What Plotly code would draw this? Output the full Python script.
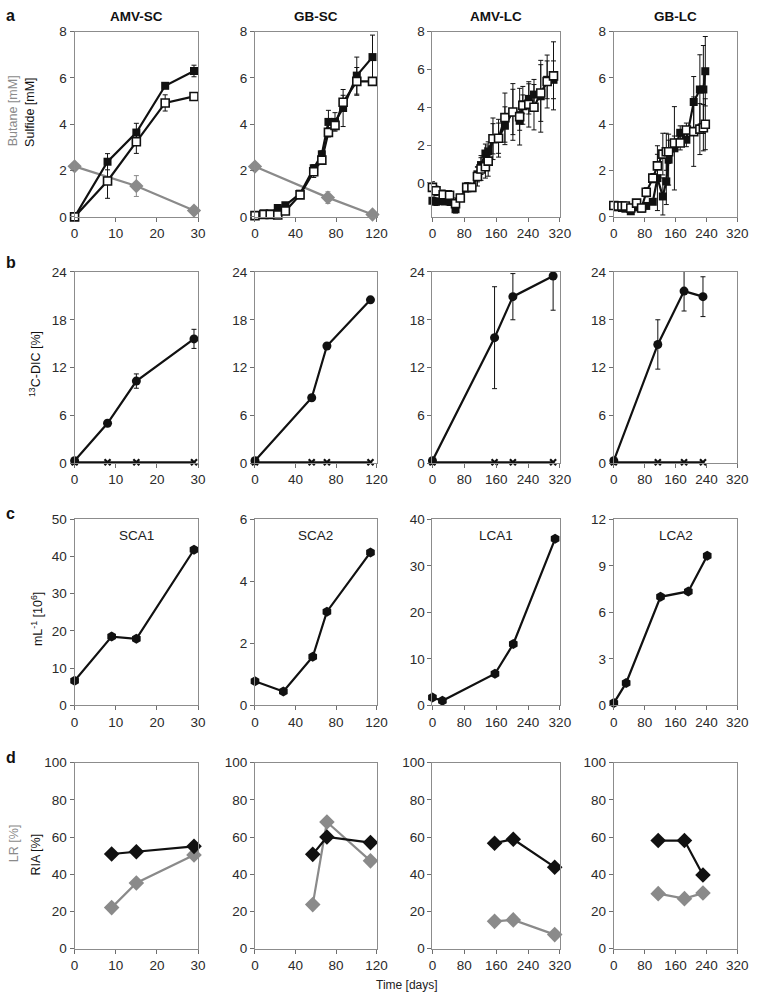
import plotly.graph_objects as go
from plotly.subplots import make_subplots

W, H = 765, 1006

# ---------- a: sulfide (squares) and butane (grey diamonds) [mM]
amv_sc_days = [0, 8, 15, 22, 29]
amv_sc_sulf_1 = [0, 2.38, 3.64, 5.66, 6.3]
amv_sc_sulf_1_err = [0, 0.35, 0.4, 0, 0.25]
amv_sc_sulf_2 = [0, 1.55, 3.24, 4.92, 5.2]
amv_sc_sulf_2_err = [0, 0.75, 0.5, 0.35, 0.15]
amv_sc_but_days = [0, 15, 29]
amv_sc_but = [2.18, 1.33, 0.27]
amv_sc_but_err = [0, 0.45, 0.1]

gb_sc_days = [0, 8.7, 15, 22.5, 30, 44.5, 58, 66, 72.5, 79, 87, 100.5, 116]
gb_sc_sulf_1 = [0.05, 0.15, 0.15, 0.38, 0.5, 1.0, 2.1, 2.7, 4.1, 4.1, 4.7, 6.1, 6.9]
gb_sc_sulf_1_err = [0, 0, 0, 0, 0, 0, 0.15, 0.15, 0.5, 0.4, 0.8, 0.8, 0.95]
gb_sc_sulf_2 = [0.05, 0.1, 0.1, 0.08, 0.25, 0.95, 1.95, 2.45, 3.65, 3.95, 4.95, 5.85, 5.85]
gb_sc_sulf_2_err = [0, 0, 0, 0, 0, 0, 0.25, 0.15, 0.2, 0.2, 0.3, 0.6, 0.1]
gb_sc_but_days = [0, 72, 116]
gb_sc_but = [2.17, 0.83, 0.1]
gb_sc_but_err = [0, 0.25, 0.05]

amv_lc_days = [0, 9, 27, 43, 58, 70, 86, 99, 113, 122, 133, 140, 152, 166, 182,
               202, 219, 227, 242, 255, 272, 288, 304]
amv_lc_sulf_1 = [-0.95, -1.0, -0.97, -1.0, -1.4, -0.8, -0.28, -0.28, 0.45, 0.94, 1.55, 1.67,
                 2.33, 2.36, 3.02, 3.75, 3.28, 4.15, 4.44, 4.67, 4.58, 5.45, 5.45]
amv_lc_sulf_1_err = [0.2, 0.2, 0.2, 0.2, 0.2, 0.1, 0.1, 0.1, 0.4, 0.5, 0.5, 0.5,
                     0.8, 0.8, 1.0, 1.2, 0.5, 0.5, 0.8, 0.8, 1.9, 1.0, 1.0]
amv_lc_sulf_2 = [-0.24, -0.42, -0.63, -0.66, -1.1, -0.8, -0.24, -0.24, 0.33, 0.73, 0.85, 1.15,
                 2.33, 2.36, 3.45, 3.75, 3.5, 4.1, 4.15, 4.0, 4.75, 5.36, 5.66]
amv_lc_sulf_2_err = [0.3, 0.25, 0.25, 0.25, 0.3, 0.1, 0.25, 0.1, 0.5, 0.6, 0.6, 0.8,
                     1.1, 1.0, 1.3, 1.5, 1.5, 1.0, 1.2, 1.2, 1.5, 1.4, 1.8]

gb_lc_days = [0, 11, 21, 30, 44, 59, 72, 84, 101, 113, 127, 136, 142, 157, 172,
              188, 207, 223, 232, 237]
gb_lc_sulf_1 = [0.49, 0.41, 0.38, 0.35, 0.24, 0.41, 0.35, 0.47, 0.65, 1.67, 0.88, 1.53,
                2.47, 2.96, 3.63, 3.33, 4.96, 5.5, 5.5, 6.29]
gb_lc_sulf_1_err = [0, 0, 0, 0, 0, 0, 0, 0, 0.1, 1.4, 0.8, 1.0,
                    1.1, 1.8, 0.3, 0.3, 1.1, 1.5, 1.9, 1.5]
gb_lc_sulf_2 = [0.49, 0.47, 0.47, 0.47, 0.38, 0.59, 0.38, 1.06, 1.67, 2.2, 2.71, 2.81,
                2.81, 3.19, 3.19, 3.75, 3.68, 3.79, 3.85, 4.0]
gb_lc_sulf_2_err = [0, 0, 0, 0, 0, 0, 0, 0.2, 0.2, 0.5, 0.9, 0.8,
                    0.5, 0.3, 0.3, 0.3, 1.5, 1.1, 1.0, 1.1]

# ---------- b: 13C-DIC [%] (circles) and controls (crosses)
dic_days = [[0, 8, 15, 29], [0, 56, 71, 114], [0, 156, 202, 303], [0, 114, 182, 231]]
dic_vals = [[0.3, 5.0, 10.3, 15.6], [0.3, 8.2, 14.7, 20.5],
            [0.3, 15.75, 20.9, 23.5], [0.3, 14.9, 21.6, 20.9]]
dic_err = [[0, 0.3, 0.9, 1.2], [0, 0.3, 0.2, 0.2], [0, 6.4, 2.9, 4.3], [0, 3.1, 2.5, 2.5]]
dic_ctrl = [[0.1, 0.1, 0.1, 0.1]] * 4

# ---------- c: cell counts, mL-1 [10^6]
cell_names = ["SCA1", "SCA2", "LCA1", "LCA2"]
cell_days = [[0, 9, 15, 29], [0, 28, 57, 71, 114], [0, 25, 157, 203, 308], [0, 32, 121, 193, 242]]
cell_vals = [[6.6, 18.5, 17.9, 41.8], [0.78, 0.45, 1.57, 3.02, 4.93],
             [1.7, 1.0, 6.8, 13.2, 35.8], [0.15, 1.45, 7.0, 7.35, 9.65]]

# ---------- d: RIA (black) and LR (grey) [%]
ria_days = [[9, 15, 29], [57, 71, 114], [156, 203, 307], [115, 183, 231]]
ria_vals = [[50.9, 52.1, 55.0], [50.7, 60.0, 57.0], [56.7, 58.8, 43.8], [58.1, 58.1, 39.6]]
lr_vals = [[22.1, 35.3, 50.4], [23.7, 68.1, 47.2], [14.7, 15.5, 7.6], [29.6, 26.9, 29.9]]

col_titles = ["AMV-SC", "GB-SC", "AMV-LC", "GB-LC"]
x_ranges = [[0, 30, 10], [0, 120, 40], [0, 320, 80], [0, 320, 80]]

# pixel boxes of plot areas
col_px = [(72, 198), (256, 380), (437, 567), (622, 748)]
row_px = [(25, 213), (269, 463), (520, 709), (767, 956)]

BLACK = "#111111"
GREY = "#8a8a8a"

fig = make_subplots(rows=4, cols=4)


def err(v, c=BLACK):
    return dict(type="data", array=v, visible=True, thickness=1, width=2.5, color=c)


def add(r, c, **kw):
    kw.setdefault("cliponaxis", False)
    kw.setdefault("showlegend", False)
    fig.add_trace(go.Scatter(**kw), row=r, col=c)


# row a
sulf = [
    (amv_sc_days, amv_sc_sulf_1, amv_sc_sulf_1_err, amv_sc_sulf_2, amv_sc_sulf_2_err),
    (gb_sc_days, gb_sc_sulf_1, gb_sc_sulf_1_err, gb_sc_sulf_2, gb_sc_sulf_2_err),
    (amv_lc_days, amv_lc_sulf_1, amv_lc_sulf_1_err, amv_lc_sulf_2, amv_lc_sulf_2_err),
    (gb_lc_days, gb_lc_sulf_1, gb_lc_sulf_1_err, gb_lc_sulf_2, gb_lc_sulf_2_err),
]
but = [(amv_sc_but_days, amv_sc_but, amv_sc_but_err), (gb_sc_but_days, gb_sc_but, gb_sc_but_err)]
for i, (d, s1, e1, s2, e2) in enumerate(sulf):
    if i < 2:
        bd, bv, be = but[i]
        add(1, i + 1, x=bd, y=bv, mode="lines+markers", error_y=err(be, GREY),
            line=dict(color=GREY, width=2.2),
            marker=dict(symbol="diamond", size=11, color=GREY))
    add(1, i + 1, x=d, y=s1, mode="lines+markers", error_y=err(e1),
        line=dict(color=BLACK, width=2.2),
        marker=dict(symbol="square", size=8, color=BLACK))
    add(1, i + 1, x=d, y=s2, mode="lines+markers", error_y=err(e2),
        line=dict(color=BLACK, width=2.2),
        marker=dict(symbol="square", size=8, color="white", line=dict(color=BLACK, width=1.6)))

# row b
for i in range(4):
    add(2, i + 1, x=dic_days[i], y=dic_ctrl[i], mode="lines+markers",
        line=dict(color=BLACK, width=2.2),
        marker=dict(symbol="x-thin", size=6, color=BLACK, line=dict(color=BLACK, width=2.2)))
    add(2, i + 1, x=dic_days[i], y=dic_vals[i], mode="lines+markers", error_y=err(dic_err[i]),
        line=dict(color=BLACK, width=2.2),
        marker=dict(symbol="circle", size=9, color=BLACK))

# row c
for i in range(4):
    add(3, i + 1, x=cell_days[i], y=cell_vals[i], mode="lines+markers",
        line=dict(color=BLACK, width=2.2),
        marker=dict(symbol="hexagon", size=10, color=BLACK))

# row d
for i in range(4):
    add(4, i + 1, x=ria_days[i], y=lr_vals[i], mode="lines+markers",
        line=dict(color=GREY, width=2.2),
        marker=dict(symbol="diamond", size=12, color=GREY))
    add(4, i + 1, x=ria_days[i], y=ria_vals[i], mode="lines+markers",
        line=dict(color=BLACK, width=2.2),
        marker=dict(symbol="diamond", size=12, color=BLACK))

y_axes = [
    [([0, 8], [0, 2, 4, 6, 8])] * 2 + [([-1.8, 8], [0, 2, 4, 6, 8]), ([0, 8], [0, 2, 4, 6, 8])],
    [([0, 24], [0, 6, 12, 18, 24])] * 4,
    [([0, 50], list(range(0, 51, 10))), ([0, 6], [0, 2, 4, 6]),
     ([0, 40], [0, 10, 20, 30, 40]), ([0, 12], [0, 3, 6, 9, 12])],
    [([0, 100], [0, 20, 40, 60, 80, 100])] * 4,
]

font = "Liberation Sans, Arial"
axis_style = dict(showline=True, mirror=True, linecolor="#8c8c8c", linewidth=1,
                  ticks="outside", ticklen=4, tickcolor="#6e6e6e", showgrid=False,
                  zeroline=False, tickfont=dict(size=13.5, color="#2a2a2a", family=font))

for r in range(4):
    for c in range(4):
        n = r * 4 + c + 1
        sfx = "" if n == 1 else str(n)
        l, rr = col_px[c]
        t, b = row_px[r]
        x0, x1, dx = x_ranges[c]
        yr, yt = y_axes[r][c]
        fig.layout["xaxis" + sfx].update(domain=[l / W, rr / W], range=[x0, x1],
                                         tickvals=list(range(x0, x1 + 1, dx)), **axis_style)
        fig.layout["yaxis" + sfx].update(domain=[1 - b / H, 1 - t / H], range=yr,
                                         tickvals=yt, **axis_style)

ann = []
for i, name in enumerate(col_titles):
    l, rr = col_px[i]
    ann.append(dict(x=(l + rr) / 2 / W, y=1 - 10 / H, text="<b>%s</b>" % name,
                    font=dict(size=13.5, color="#111", family=font)))
for i, name in enumerate(cell_names):
    l, rr = col_px[i]
    ann.append(dict(x=(l + rr) / 2 / W, y=1 - 537 / H, text=name,
                    font=dict(size=13.5, color="#222", family=font)))
for letter, yy in zip("abcd", [9, 259, 514, 762]):
    ann.append(dict(x=7 / W, y=1 - yy / H, text="<b>%s</b>" % letter,
                    font=dict(size=16, color="#111", family=font)))
ylabels = [
    ("Butane [mM]", GREY, 10, 105),
    ("Sulfide [mM]", BLACK, 27, 107),
    ("<sup>13</sup>C-DIC [%]", BLACK, 31, 362),
    ("mL<sup>-1</sup> [10<sup>6</sup>]", BLACK, 33, 621),
    ("LR [%]", GREY, 11, 849),
    ("RIA [%]", BLACK, 33, 860),
]
for txt, colr, xx, yy in ylabels:
    ann.append(dict(x=xx / W, y=1 - yy / H, text=txt, textangle=-90,
                    font=dict(size=12.5, color=colr, family=font)))
ann.append(dict(x=411 / W, y=1 - 993 / H, text="Time [days]",
                font=dict(size=12, color="#222", family=font)))
for a in ann:
    a.update(xref="paper", yref="paper", showarrow=False, xanchor="center", yanchor="middle")

fig.update_layout(width=W, height=H, autosize=False, margin=dict(l=0, r=0, t=0, b=0),
                  paper_bgcolor="white", plot_bgcolor="white", annotations=ann,
                  font=dict(family=font), hovermode=False)

# page body without its default margin, so the figure fills the window exactly
fig.write_html("out.html", config={"displayModeBar": False},
               post_script="document.body.style.margin='0';")
